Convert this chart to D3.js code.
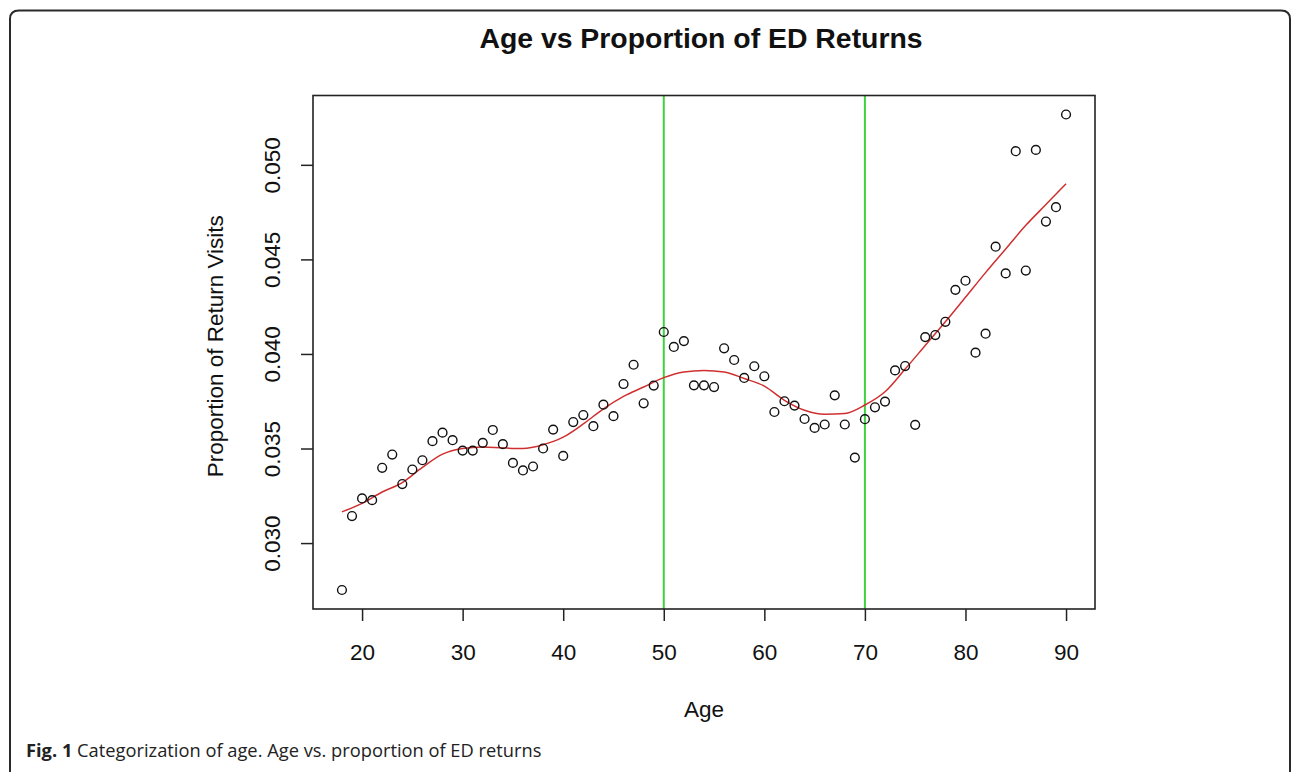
<!DOCTYPE html>
<html lang="en">
<head>
<meta charset="utf-8">
<title>Age vs Proportion of ED Returns</title>
<script src="https://d3js.org/d3.v7.min.js"></script>
<style>
	body { margin:0; background:#fff; }
	svg { display:block; }
	.r text { font-family: "Liberation Sans", Arial, Helvetica, sans-serif; fill:#111; }
	.caption { font-family: "Open Sans", sans-serif; font-size: 18.3px; fill:#222; }
</style>
</head>
<body>
<script>
	var ages = d3.range(18, 91);
	var proportions = [
		0.02752, 0.03143, 0.03236, 0.03227, 0.03398, 0.03468, 0.03312, 0.03389, 0.03438, 0.03539,
		0.03584, 0.03544, 0.03489, 0.03489, 0.03530, 0.03598, 0.03523, 0.03424, 0.03384, 0.03405,
		0.03500, 0.03600, 0.03461, 0.03640, 0.03677, 0.03618, 0.03732, 0.03671, 0.03841, 0.03943,
		0.03739, 0.03833, 0.04116, 0.04037, 0.04068, 0.03834, 0.03834, 0.03825, 0.04030, 0.03968,
		0.03873, 0.03935, 0.03882, 0.03693, 0.03750, 0.03727, 0.03656, 0.03609, 0.03627, 0.03781,
		0.03627, 0.03452, 0.03655, 0.03718, 0.03748, 0.03913, 0.03936, 0.03625, 0.04089, 0.04100,
		0.04170, 0.04339, 0.04387, 0.04007, 0.04107, 0.04567, 0.04426, 0.05072, 0.04441, 0.05079,
		0.04700, 0.04776, 0.05266
	];

	// smoothed (red) curve, sampled every two years
	var smoothAges = d3.range(18, 91, 2);
	var smoothValues = [
		0.03165, 0.03210, 0.03270, 0.03320, 0.03400, 0.03470, 0.03500, 0.03508, 0.03503, 0.03500,
		0.03520, 0.03560, 0.03630, 0.03710, 0.03776, 0.03825, 0.03875, 0.03905, 0.03913, 0.03905,
		0.03870, 0.03830, 0.03755, 0.03702, 0.03681, 0.03685, 0.03730, 0.03800, 0.03920, 0.04045,
		0.04170, 0.04300, 0.04430, 0.04555, 0.04680, 0.04790, 0.04900
	];

	var cutAges = [50, 70];
	var xTicks = [20, 30, 40, 50, 60, 70, 80, 90];
	var yTicks = [0.030, 0.035, 0.040, 0.045, 0.050];

	var totalWidth = 1293, totalHeight = 772;
	var box = {left: 313, right: 1095, top: 95.5, bottom: 609};

	var svg = d3.select("body").append("svg")
		.attr("width", totalWidth)
		.attr("height", totalHeight);

	// rounded frame around the figure (open at the bottom)
	svg.append("path")
		.attr("d", "M10,790 L10,19 Q10,10.5 19,10.5 L1281,10.5 Q1290,10.5 1290,19 L1290,790")
		.attr("fill", "none")
		.attr("stroke", "#2a2a2a")
		.attr("stroke-width", 2);

	var g = svg.append("g").attr("class", "r");

	// R style axis limits: data range widened by 4% each side
	function pad(ext) {
		var d = (ext[1] - ext[0]) * 0.04;
		return [ext[0] - d, ext[1] + d];
	}
	var xScale = d3.scaleLinear().domain(pad(d3.extent(ages))).range([box.left, box.right]);
	var yScale = d3.scaleLinear().domain(pad(d3.extent(proportions))).range([box.bottom, box.top]);

	// vertical cut lines
	g.selectAll(".cut")
		.data(cutAges)
		.enter()
		.append("line")
		.attr("x1", d => xScale(d))
		.attr("x2", d => xScale(d))
		.attr("y1", box.top)
		.attr("y2", box.bottom)
		.attr("stroke", "#3fd23f")
		.attr("stroke-width", 2);

	// smoothed curve
	var line = d3.line()
		.x(function(d, i) { return xScale(smoothAges[i]); })
		.y(function(d) { return yScale(d); })
		.curve(d3.curveMonotoneX);
	g.append("path")
		.datum(smoothValues)
		.attr("d", line)
		.attr("fill", "none")
		.attr("stroke", "#d02f2f")
		.attr("stroke-width", 1.5);

	// points
	g.selectAll(".pt")
		.data(proportions)
		.enter()
		.append("circle")
		.attr("cx", function(d, i) { return xScale(ages[i]); })
		.attr("cy", function(d) { return yScale(d); })
		.attr("r", 4.4)
		.attr("fill", "none")
		.attr("stroke", "#111")
		.attr("stroke-width", 1.4);

	// plot box
	g.append("rect")
		.attr("x", box.left)
		.attr("y", box.top)
		.attr("width", box.right - box.left)
		.attr("height", box.bottom - box.top)
		.attr("fill", "none")
		.attr("stroke", "#222")
		.attr("stroke-width", 1.6);

	// x axis
	var xAxis = g.append("g")
		.attr("transform", "translate(0," + box.bottom + ")")
		.call(d3.axisBottom(xScale).tickValues(xTicks).tickSize(12).tickFormat(d3.format("d")));
	xAxis.select(".domain").remove();
	xAxis.selectAll("line").attr("stroke", "#222").attr("stroke-width", 1.5);
	xAxis.selectAll("text")
		.attr("y", 51).attr("dy", null)
		.style("font-size", "22.5px")
		.style("font-family", "'Liberation Sans', Arial, sans-serif")
		.attr("fill", "#111");

	// y axis, labels turned like R's default
	var yAxis = g.append("g")
		.attr("transform", "translate(" + box.left + ",0)")
		.call(d3.axisLeft(yScale).tickValues(yTicks).tickSize(12).tickFormat(d3.format(".3f")));
	yAxis.select(".domain").remove();
	yAxis.selectAll("line").attr("stroke", "#222").attr("stroke-width", 1.5);
	yAxis.selectAll("text")
		.attr("x", null).attr("dy", null)
		.attr("transform", "translate(-33,0) rotate(-90)")
		.attr("text-anchor", "middle")
		.style("font-size", "22.5px")
		.style("font-family", "'Liberation Sans', Arial, sans-serif")
		.attr("fill", "#111");

	// titles
	g.append("text")
		.attr("x", 701)
		.attr("y", 48)
		.attr("text-anchor", "middle")
		.style("font-size", "28.4px")
		.style("font-weight", "bold")
		.text("Age vs Proportion of ED Returns");

	g.append("text")
		.attr("x", 704)
		.attr("y", 717)
		.attr("text-anchor", "middle")
		.style("font-size", "22.5px")
		.text("Age");

	g.append("text")
		.attr("transform", "translate(223," + ((box.top + box.bottom) / 2 - 6) + ") rotate(-90)")
		.attr("text-anchor", "middle")
		.style("font-size", "22.5px")
		.text("Proportion of Return Visits");

	// figure caption
	var cap = svg.append("text")
		.attr("class", "caption")
		.attr("x", 26)
		.attr("y", 757);
	cap.append("tspan").style("font-weight", "bold").text("Fig. 1");
	cap.append("tspan").text(" Categorization of age. Age vs. proportion of ED returns");
</script>
</body>
</html>
